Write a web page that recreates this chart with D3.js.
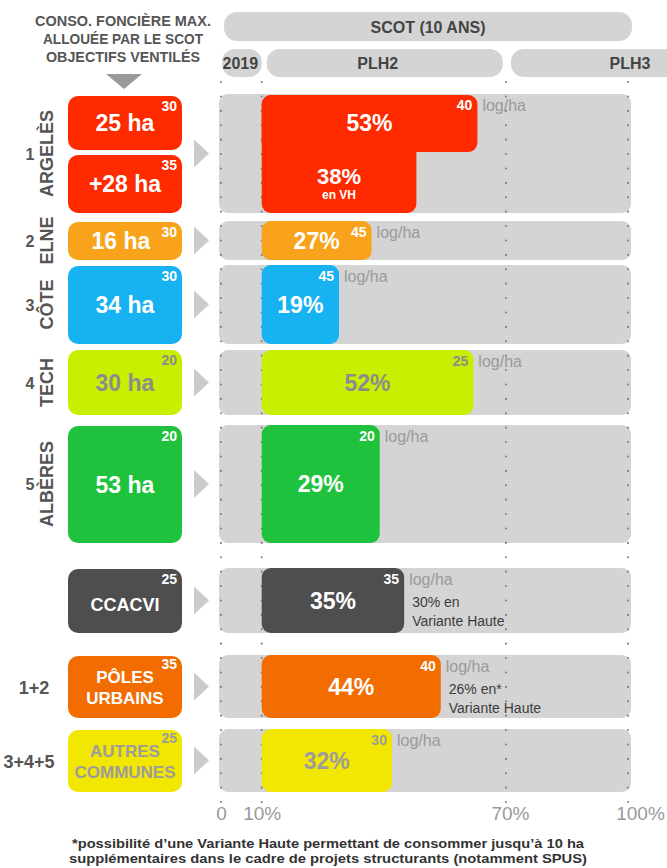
<!DOCTYPE html>
<html>
<head>
<meta charset="utf-8">
<script src="https://cdn.jsdelivr.net/npm/d3@7"></script>
<style>
body { margin: 0; background: #fff; }
svg { display: block; font-family: "Liberation Sans", Arial, Helvetica, sans-serif; }
</style>
</head>
<body>
<script>
var width = 667, height = 868;

// data
var groupNames = ["ARGELÈS", "ELNE", "CÔTE", "TECH", "ALBÈRES", "CCACVI", "PÔLES URBAINS", "AUTRES COMMUNES"];
var groupNums = ["1", "2", "3", "4", "5", "", "1+2", "3+4+5"];
var boxLabels = ["25 ha", "+28 ha", "16 ha", "34 ha", "30 ha", "53 ha", "CCACVI", "PÔLES|URBAINS", "AUTRES|COMMUNES"];
var boxDensity = [30, 35, 30, 30, 20, 20, 25, 35, 25];
var boxRow = [0, 0, 1, 2, 3, 4, 5, 6, 7];
var plhShare = [53, 27, 19, 52, 29, 35, 44, 32];
var plhDensity = [40, 45, 45, 25, 20, 35, 40, 30];
var vhShare = [38, null, null, null, null, 30, 26, null];
var axisTicks = [0, 10, 70, 100];
var periods = ["2019", "PLH2", "PLH3"];
var periodBounds = [[0, 10], [10, 70], [70, 100]];

// layout
var rowTop = [94, 221, 265, 350, 425, 568, 655, 729];
var rowBottom = [213, 260, 344, 415, 543, 633, 718, 792];
var boxTop = [96, 155, 222, 266, 350, 426, 569, 656, 730];
var boxBottom = [150, 213, 260, 344, 415, 543, 633, 718, 792];
var rowColors = ["#ff2a00", "#f8a31b", "#17b2f2", "#c9ef00", "#1fc23d", "#4e4e4e", "#f26c00", "#f1e700"];
var rowText = ["#fff", "#fff", "#fff", "#8c8c8c", "#fff", "#fff", "#fff", "#9c9c9c"];
var grey = "#d4d4d4";

var x = d3.scaleLinear().domain([0, 100]).range([221, 628]);
var w = function(v) { return x(v) - x(0); };

var svg = d3.select("body").append("svg")
    .attr("width", width)
    .attr("height", height)
    .attr("viewBox", "0 0 " + width + " " + height);

// header, left
var head = ["CONSO. FONCIÈRE MAX.", "ALLOUÉE PAR LE SCOT", "OBJECTIFS VENTILÉS"];
svg.append("g").selectAll("text").data(head).join("text")
    .attr("x", 123).attr("y", function(d, i) { return 26 + i * 18; })
    .attr("text-anchor", "middle")
    .attr("font-size", 14).attr("font-weight", "bold").attr("fill", "#555")
    .attr("textLength", function(d, i) { return [176, 160, 154][i]; })
    .attr("lengthAdjust", "spacingAndGlyphs")
    .text(function(d) { return d; });
svg.append("path").attr("d", "M106,74 L142,74 L124,89 Z").attr("fill", "#9a9a9a");

// header, periods
svg.append("rect").attr("x", 224).attr("y", 12).attr("width", 408).attr("height", 29)
    .attr("rx", 13).attr("fill", grey);
svg.append("text").attr("x", 428).attr("y", 33).attr("text-anchor", "middle")
    .attr("font-size", 16).attr("font-weight", "bold").attr("fill", "#444")
    .text("SCOT (10 ANS)");

var pill = svg.append("g").selectAll("g").data(periods).join("g");
pill.append("rect")
    .attr("x", function(d, i) { return x(periodBounds[i][0]) + (i == 0 ? 1 : 5); })
    .attr("y", 49)
    .attr("width", function(d, i) { return i == 2 ? 200 : x(periodBounds[i][1]) - x(periodBounds[i][0]) - (i == 0 ? 1 : 8); })
    .attr("height", 28).attr("rx", 13).attr("fill", grey);
pill.append("text")
    .attr("x", function(d, i) { return i == 2 ? x(100) + 2 : (x(periodBounds[i][0]) + x(periodBounds[i][1])) / 2 + (i == 0 ? -1 : -6); })
    .attr("y", 69).attr("text-anchor", "middle")
    .attr("font-size", 16).attr("font-weight", "bold").attr("fill", "#444")
    .text(function(d) { return d; });

// grey rows
svg.append("g").selectAll("rect").data(plhShare).join("rect")
    .attr("x", x(0) - 2).attr("width", x(100) - x(0) + 5)
    .attr("y", function(d, i) { return rowTop[i]; })
    .attr("height", function(d, i) { return rowBottom[i] - rowTop[i]; })
    .attr("rx", 9).attr("fill", grey);

// dotted guides
svg.append("g").selectAll("line").data(axisTicks).join("line")
    .attr("x1", function(d) { return x(d); }).attr("x2", function(d) { return x(d); })
    .attr("y1", 82).attr("y2", 806)
    .attr("stroke", "#7c7c7c").attr("stroke-width", 2)
    .attr("stroke-linecap", "round").attr("stroke-dasharray", "0.1 14.3");

// PLH bars
var bars = svg.append("g");
vhShare.forEach(function(v, i) {
    if (v != null && i == 0) {
        bars.append("rect")
            .attr("x", x(10)).attr("width", w(v))
            .attr("y", rowTop[i] + 1).attr("height", rowBottom[i] - rowTop[i] - 1)
            .attr("rx", 9).attr("fill", rowColors[i]);
    }
});
bars.selectAll("rect.plh").data(plhShare).join("rect")
    .attr("class", "plh")
    .attr("x", x(10)).attr("width", function(d) { return w(d); })
    .attr("y", function(d, i) { return rowTop[i] + (i == 0 ? 1 : 0); })
    .attr("height", function(d, i) { return i == 0 ? 151 - rowTop[i] : rowBottom[i] - rowTop[i]; })
    .attr("rx", 9).attr("fill", function(d, i) { return rowColors[i]; });

// percent in bars
bars.selectAll("text.pct").data(plhShare).join("text")
    .attr("class", "pct")
    .attr("x", function(d) { return x(10) + w(d) / 2; })
    .attr("y", function(d, i) { return (i == 0 ? (rowTop[i] + 151) / 2 : (rowTop[i] + rowBottom[i]) / 2) + 8; })
    .attr("text-anchor", "middle")
    .attr("font-size", 23).attr("font-weight", "bold")
    .attr("fill", function(d, i) { return rowText[i]; })
    .text(function(d) { return d + "%"; });

// Argelès variante haute inside its bar
bars.append("text").attr("x", x(10) + w(vhShare[0]) / 2).attr("y", 184)
    .attr("text-anchor", "middle").attr("font-size", 22).attr("font-weight", "bold").attr("fill", "#fff")
    .text(vhShare[0] + "%");
bars.append("text").attr("x", x(10) + w(vhShare[0]) / 2).attr("y", 199)
    .attr("text-anchor", "middle").attr("font-size", 12).attr("font-weight", "bold").attr("fill", "#fff")
    .text("en VH");

// density on PLH bars
bars.selectAll("text.dens").data(plhDensity).join("text")
    .attr("class", "dens")
    .attr("x", function(d, i) { return x(10) + w(plhShare[i]) - 5; })
    .attr("y", function(d, i) { return rowTop[i] + 16; })
    .attr("text-anchor", "end")
    .attr("font-size", 14).attr("font-weight", "bold")
    .attr("fill", function(d, i) { return rowText[i]; })
    .text(function(d) { return d; });
bars.selectAll("text.unit").data(plhDensity).join("text")
    .attr("class", "unit")
    .attr("x", function(d, i) { return x(10) + w(plhShare[i]) + 5; })
    .attr("y", function(d, i) { return rowTop[i] + 17; })
    .attr("font-size", 16).attr("fill", "#9a9a9a")
    .text("log/ha");

// variante haute notes
vhShare.forEach(function(v, i) {
    if (v == null || i == 0) return;
    var t = bars.append("text").attr("font-size", 14).attr("fill", "#3c3c3c");
    t.append("tspan").attr("x", x(10) + w(plhShare[i]) + 8).attr("y", rowTop[i] + 39)
        .text(v + "% en" + (i == 6 ? "*" : ""));
    t.append("tspan").attr("x", x(10) + w(plhShare[i]) + 8).attr("y", rowTop[i] + 58)
        .text("Variante Haute");
});

// left boxes
var box = svg.append("g").selectAll("g").data(boxLabels).join("g");
box.append("rect")
    .attr("x", 68).attr("width", 114)
    .attr("y", function(d, i) { return boxTop[i]; })
    .attr("height", function(d, i) { return boxBottom[i] - boxTop[i]; })
    .attr("rx", 10).attr("fill", function(d, i) { return rowColors[boxRow[i]]; });
box.each(function(d, i) {
    var g = d3.select(this);
    var lines = d.split("|");
    var cy = (boxTop[i] + boxBottom[i]) / 2;
    var big = lines.length == 1 && d.indexOf("ha") >= 0;
    var fs = big ? 23 : (lines.length == 1 ? 18 : 17);
    lines.forEach(function(l, k) {
        g.append("text")
            .attr("x", 125 + (boxRow[i] == 1 ? -4 : 0))
            .attr("y", cy + fs * 0.36 + (k - (lines.length - 1) / 2) * 21 + (lines.length == 1 && !big ? 4 : 0))
            .attr("text-anchor", "middle")
            .attr("font-size", fs).attr("font-weight", "bold")
            .attr("fill", rowText[boxRow[i]])
            .text(l);
    });
    g.append("text")
        .attr("x", 177).attr("y", boxTop[i] + (boxRow[i] >= 6 ? 13 : 15))
        .attr("text-anchor", "end")
        .attr("font-size", 14).attr("font-weight", "bold")
        .attr("fill", rowText[boxRow[i]])
        .text(boxDensity[i]);
});

// chevrons
svg.append("g").selectAll("path").data(groupNames).join("path")
    .attr("d", function(d, i) {
        var cy = (rowTop[i] + rowBottom[i]) / 2;
        return "M194," + (cy - 14) + " L209," + cy + " L194," + (cy + 14) + " Z";
    })
    .attr("fill", "#cbcbcb");

// row labels
var lab = svg.append("g").selectAll("g").data(groupNames).join("g");
lab.each(function(d, i) {
    var g = d3.select(this);
    var cy = (rowTop[i] + rowBottom[i]) / 2;
    if (i < 5) {
        g.append("text").attr("x", 30).attr("y", cy + 6).attr("text-anchor", "middle")
            .attr("font-size", 16).attr("font-weight", "bold").attr("fill", "#555")
            .text(groupNums[i]);
        g.append("text")
            .attr("transform", "translate(53," + cy + ") rotate(-90)")
            .attr("text-anchor", "middle")
            .attr("font-size", 18).attr("font-weight", "bold").attr("fill", "#555")
            .text(d);
    } else if (groupNums[i] != "") {
        g.append("text").attr("x", i == 6 ? 34 : 29).attr("y", cy + 7).attr("text-anchor", "middle")
            .attr("font-size", 18).attr("font-weight", "bold").attr("fill", "#555")
            .text(groupNums[i]);
    }
});

// axis
var axis = svg.append("g")
    .attr("transform", "translate(0,806)")
    .call(d3.axisBottom(x).tickValues(axisTicks).tickSize(0).tickPadding(0)
        .tickFormat(function(d) { return d == 0 ? "0" : d + "%"; }));
axis.select(".domain").remove();
axis.selectAll("text")
    .attr("font-family", "Liberation Sans, Arial, sans-serif")
    .attr("font-size", 19).attr("fill", "#9a9a9a")
    .attr("dx", function(d) { return d == 100 ? 12 : (d == 70 ? 4 : 0); });

// footnote
var notes = ["*possibilité d’une Variante Haute permettant de consommer jusqu’à 10 ha",
    "supplémentaires dans le cadre de projets structurants (notamment SPUS)"];
svg.append("g").selectAll("text").data(notes).join("text")
    .attr("x", 328).attr("y", function(d, i) { return 848 + i * 15; })
    .attr("text-anchor", "middle")
    .attr("font-size", 12).attr("font-weight", "bold").attr("fill", "#333")
    .attr("textLength", function(d, i) { return i == 0 ? 512 : 518; })
    .attr("lengthAdjust", "spacingAndGlyphs")
    .text(function(d) { return d; });
</script>
</body>
</html>
